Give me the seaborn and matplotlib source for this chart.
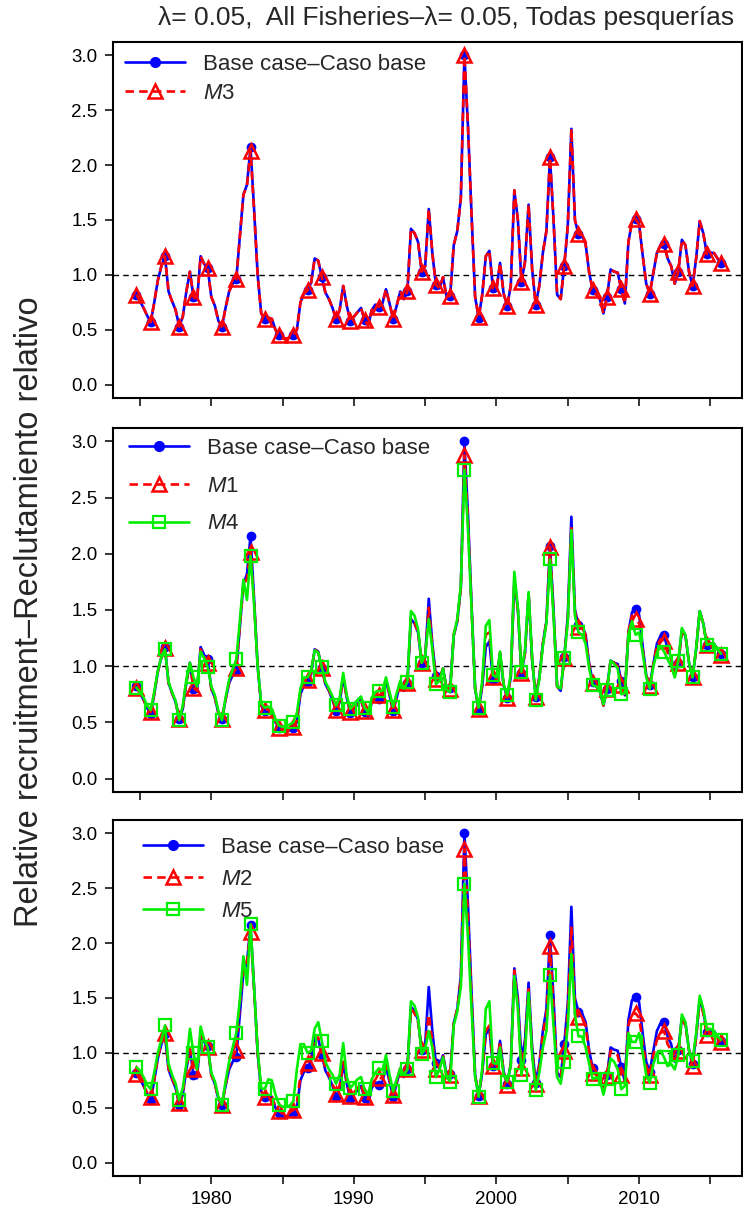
import numpy as np
import pandas as pd
import matplotlib
matplotlib.use("Agg")
import matplotlib.pyplot as plt
import seaborn as sns
from matplotlib.lines import Line2D

# ---------------- data (quarterly, first point 1974.75) ----------------
start_year = 1974.75
base = [
    0.82, 0.76, 0.70, 0.63,
    0.57, 0.75, 0.95, 1.08,
    1.17, 0.85, 0.76, 0.68,
    0.53, 0.62, 0.85, 1.03,
    0.80, 0.77, 1.17, 1.10,
    1.06, 0.80, 0.72, 0.58,
    0.53, 0.70, 0.85, 0.92,
    0.96, 1.35, 1.73, 1.82,
    2.16, 1.60, 1.00, 0.65,
    0.60, 0.61, 0.60, 0.50,
    0.45, 0.42, 0.42, 0.43,
    0.45, 0.50, 0.75, 0.83,
    0.86, 0.93, 1.15, 1.13,
    0.98, 0.84, 0.78, 0.70,
    0.60, 0.68, 0.90, 0.72,
    0.58, 0.62, 0.66, 0.70,
    0.59, 0.54, 0.68, 0.73,
    0.71, 0.74, 0.87, 0.74,
    0.60, 0.72, 0.85, 0.78,
    0.85, 1.42, 1.38, 1.30,
    1.03, 1.08, 1.60, 1.20,
    0.91, 0.88, 0.98, 0.80,
    0.81, 1.27, 1.40, 1.70,
    3.00, 2.35, 1.55, 0.80,
    0.61, 0.82, 1.17, 1.22,
    0.88, 0.87, 1.11, 0.83,
    0.72, 0.90, 1.77, 1.50,
    0.94, 1.12, 1.64, 1.05,
    0.73, 0.90, 1.20, 1.40,
    2.07, 1.50, 0.82, 0.78,
    1.08, 1.45, 2.33, 1.50,
    1.37, 1.36, 1.28, 1.02,
    0.86, 0.82, 0.78, 0.65,
    0.80, 1.05, 1.03, 1.02,
    0.87, 0.74, 1.30, 1.48,
    1.51, 1.46, 1.18, 0.92,
    0.83, 1.02, 1.20, 1.27,
    1.28, 1.15, 1.08, 0.92,
    1.03, 1.32, 1.27, 1.03,
    0.90, 1.15, 1.49, 1.38,
    1.19, 1.20, 1.20, 1.15,
    1.11,
]
m3 = [
    0.82, 0.76, 0.70, 0.63,
    0.57, 0.75, 0.95, 1.08,
    1.17, 0.85, 0.76, 0.68,
    0.53, 0.62, 0.85, 1.03,
    0.80, 0.77, 1.17, 1.10,
    1.06, 0.80, 0.72, 0.58,
    0.53, 0.70, 0.85, 0.92,
    0.96, 1.35, 1.73, 1.81,
    2.13, 1.59, 1.00, 0.65,
    0.60, 0.61, 0.60, 0.50,
    0.45, 0.42, 0.42, 0.43,
    0.45, 0.50, 0.75, 0.83,
    0.86, 0.93, 1.15, 1.13,
    0.98, 0.84, 0.78, 0.70,
    0.60, 0.68, 0.90, 0.72,
    0.58, 0.62, 0.66, 0.70,
    0.59, 0.54, 0.68, 0.73,
    0.71, 0.74, 0.87, 0.74,
    0.60, 0.72, 0.85, 0.78,
    0.85, 1.42, 1.38, 1.30,
    1.03, 1.08, 1.60, 1.20,
    0.91, 0.88, 0.98, 0.80,
    0.81, 1.27, 1.40, 1.70,
    3.00, 2.35, 1.55, 0.80,
    0.62, 0.82, 1.17, 1.22,
    0.88, 0.87, 1.11, 0.83,
    0.72, 0.90, 1.77, 1.50,
    0.94, 1.12, 1.64, 1.05,
    0.73, 0.90, 1.20, 1.40,
    2.07, 1.50, 0.82, 0.78,
    1.08, 1.45, 2.33, 1.50,
    1.37, 1.36, 1.28, 1.02,
    0.86, 0.82, 0.78, 0.65,
    0.80, 1.05, 1.03, 1.02,
    0.87, 0.74, 1.30, 1.48,
    1.51, 1.46, 1.18, 0.92,
    0.83, 1.02, 1.20, 1.27,
    1.28, 1.15, 1.08, 0.92,
    1.03, 1.32, 1.27, 1.03,
    0.90, 1.15, 1.49, 1.38,
    1.19, 1.20, 1.20, 1.15,
    1.11,
]
m1 = [
    0.81, 0.76, 0.70, 0.63,
    0.59, 0.76, 0.95, 1.08,
    1.16, 0.85, 0.76, 0.68,
    0.53, 0.63, 0.86, 1.02,
    0.81, 0.78, 1.15, 1.09,
    1.03, 0.80, 0.72, 0.58,
    0.53, 0.70, 0.86, 0.93,
    0.98, 1.36, 1.72, 1.78,
    2.02, 1.58, 1.00, 0.65,
    0.61, 0.62, 0.61, 0.51,
    0.45, 0.43, 0.43, 0.44,
    0.46, 0.52, 0.77, 0.84,
    0.88, 0.94, 1.15, 1.12,
    0.98, 0.84, 0.79, 0.71,
    0.61, 0.69, 0.90, 0.72,
    0.59, 0.63, 0.67, 0.70,
    0.60, 0.56, 0.69, 0.74,
    0.74, 0.76, 0.88, 0.75,
    0.61, 0.73, 0.85, 0.79,
    0.85, 1.43, 1.39, 1.30,
    1.03, 1.08, 1.52, 1.18,
    0.89, 0.88, 0.98, 0.80,
    0.80, 1.28, 1.40, 1.70,
    2.88, 2.30, 1.52, 0.80,
    0.62, 0.84, 1.28, 1.30,
    0.90, 0.88, 1.12, 0.83,
    0.72, 0.90, 1.78, 1.50,
    0.94, 1.12, 1.64, 1.06,
    0.73, 0.90, 1.20, 1.40,
    2.06, 1.48, 0.82, 0.78,
    1.07, 1.42, 2.25, 1.48,
    1.35, 1.33, 1.25, 1.01,
    0.85, 0.82, 0.78, 0.65,
    0.80, 1.05, 1.03, 1.00,
    0.83, 0.75, 1.30, 1.45,
    1.42, 1.38, 1.15, 0.92,
    0.82, 1.02, 1.18, 1.24,
    1.22, 1.12, 1.06, 0.92,
    1.03, 1.30, 1.27, 1.03,
    0.90, 1.15, 1.49, 1.38,
    1.19, 1.20, 1.20, 1.15,
    1.10,
]
m4 = [
    0.81, 0.77, 0.72, 0.65,
    0.61, 0.77, 0.96, 1.08,
    1.15, 0.86, 0.77, 0.69,
    0.52, 0.65, 0.88, 1.03,
    0.90, 0.82, 1.13, 1.07,
    0.99, 0.82, 0.74, 0.60,
    0.52, 0.72, 0.88, 0.97,
    1.06, 1.40, 1.77, 1.59,
    1.98, 1.55, 1.00, 0.67,
    0.63, 0.64, 0.62, 0.53,
    0.47, 0.46, 0.47, 0.48,
    0.50, 0.58, 0.80, 0.90,
    0.90, 0.96, 1.14, 1.12,
    0.99, 0.86, 0.80, 0.73,
    0.65, 0.72, 0.94, 0.74,
    0.62, 0.66, 0.70, 0.73,
    0.63, 0.59, 0.72, 0.77,
    0.78, 0.78, 0.90, 0.77,
    0.64, 0.76, 0.87, 0.80,
    0.86, 1.49, 1.45, 1.33,
    1.03, 1.10, 1.42, 1.15,
    0.84, 0.87, 0.98, 0.79,
    0.77, 1.28, 1.42, 1.72,
    2.75, 2.22, 1.50, 0.80,
    0.63, 0.87, 1.36, 1.41,
    0.92, 0.90, 1.13, 0.84,
    0.74, 0.93, 1.84, 1.52,
    0.95, 1.15, 1.66, 1.07,
    0.70, 0.88, 1.18, 1.38,
    1.95, 1.45, 0.82, 0.80,
    1.07, 1.40, 2.21, 1.45,
    1.30, 1.28, 1.20, 0.98,
    0.83, 0.82, 0.78, 0.66,
    0.79, 1.05, 1.02, 0.98,
    0.75, 0.76, 1.28, 1.40,
    1.28, 1.30, 1.12, 0.90,
    0.80, 1.00, 1.12, 1.18,
    1.13, 1.06, 1.00, 0.90,
    1.05, 1.34, 1.28, 1.03,
    0.90, 1.16, 1.49, 1.38,
    1.19, 1.20, 1.20, 1.15,
    1.11,
]
m2 = [
    0.81, 0.76, 0.70, 0.64,
    0.60, 0.76, 0.96, 1.09,
    1.18, 0.86, 0.77, 0.69,
    0.54, 0.64, 0.87, 1.04,
    0.85, 0.80, 1.17, 1.10,
    1.05, 0.80, 0.72, 0.58,
    0.53, 0.71, 0.88, 0.96,
    1.03, 1.45, 1.78, 1.84,
    2.10, 1.58, 1.00, 0.65,
    0.60, 0.61, 0.60, 0.51,
    0.47, 0.45, 0.45, 0.46,
    0.48, 0.55, 0.79, 0.87,
    0.91, 0.96, 1.16, 1.14,
    1.00, 0.86, 0.80, 0.72,
    0.63, 0.70, 0.92, 0.74,
    0.61, 0.64, 0.68, 0.72,
    0.60, 0.58, 0.71, 0.76,
    0.77, 0.77, 0.89, 0.76,
    0.62, 0.74, 0.86, 0.79,
    0.85, 1.40, 1.36, 1.28,
    1.03, 1.06, 1.35, 1.10,
    0.85, 0.86, 0.97, 0.79,
    0.80, 1.27, 1.40, 1.68,
    2.86, 2.25, 1.50, 0.79,
    0.61, 0.83, 1.20, 1.25,
    0.88, 0.87, 1.10, 0.82,
    0.71, 0.89, 1.75, 1.45,
    0.86, 1.08, 1.58, 1.02,
    0.72, 0.88, 1.17, 1.36,
    1.97, 1.42, 0.80, 0.77,
    1.02, 1.38, 2.15, 1.42,
    1.33, 1.32, 1.24, 1.00,
    0.82, 0.80, 0.77, 0.66,
    0.79, 1.02, 1.00, 0.98,
    0.80, 0.75, 1.25, 1.35,
    1.36, 1.32, 1.10, 0.88,
    0.80, 0.98, 1.12, 1.18,
    1.20, 1.08, 1.02, 0.90,
    1.02, 1.30, 1.25, 1.02,
    0.88, 1.14, 1.48, 1.36,
    1.16, 1.18, 1.18, 1.13,
    1.10,
]
m5 = [
    0.87, 0.84, 0.78, 0.71,
    0.67, 0.82, 1.00, 1.12,
    1.25, 0.90, 0.80, 0.72,
    0.57, 0.68, 0.90, 1.22,
    1.00, 0.85, 1.24, 1.12,
    1.05, 0.82, 0.74, 0.60,
    0.53, 0.74, 0.92, 1.05,
    1.18, 1.48, 1.88, 1.62,
    2.17, 1.60, 1.02, 0.68,
    0.67, 0.76, 0.75, 0.62,
    0.53, 0.51, 0.51, 0.52,
    0.56, 0.85, 1.08, 1.08,
    1.00, 1.02, 1.22, 1.28,
    1.11, 0.92, 0.85, 0.80,
    0.72, 0.80, 1.09, 0.78,
    0.68, 0.72, 0.76, 0.78,
    0.67, 0.62, 0.76, 0.82,
    0.86, 0.84, 0.98, 0.80,
    0.65, 0.76, 0.86, 0.80,
    0.85, 1.47, 1.43, 1.32,
    0.99, 1.04, 1.20, 1.05,
    0.78, 0.85, 0.96, 0.78,
    0.74, 1.25, 1.38, 1.60,
    2.54, 2.05, 1.40, 0.78,
    0.60, 0.86, 1.40, 1.47,
    0.91, 0.90, 1.05, 0.80,
    0.74, 0.88, 1.70, 1.40,
    0.80, 1.00, 1.55, 0.98,
    0.66, 0.82, 1.05, 1.20,
    1.71, 1.25, 0.78, 0.72,
    0.92, 1.25, 1.90, 1.35,
    1.15, 1.15, 1.05, 0.90,
    0.76, 0.78, 0.75, 0.62,
    0.76, 0.95, 0.92, 0.85,
    0.67, 0.70, 1.18, 1.10,
    1.10, 1.18, 1.00, 0.80,
    0.73, 0.90, 1.00, 1.02,
    0.96, 0.88, 0.90, 0.85,
    0.98, 1.35, 1.28, 1.02,
    0.93, 1.18, 1.52, 1.40,
    1.21, 1.22, 1.20, 1.15,
    1.12,
]

title = "\u03bb= 0.05,  All Fisheries\u2013\u03bb= 0.05, Todas pesquer\u00edas"
ylabel = "Relative recruitment\u2013Reclutamiento relativo"
base_label = "Base case\u2013Caso base"
ytick_vals = [0.0, 0.5, 1.0, 1.5, 2.0, 2.5, 3.0]
xtick_vals = [1975, 1980, 1985, 1990, 1995, 2000, 2005, 2010, 2015]
xtick_labeled = [1980, 1990, 2000, 2010]

quarters = start_year + 0.25 * np.arange(len(base))
df = pd.DataFrame({"year": quarters, "base": base, "M3": m3, "M1": m1,
                   "M4": m4, "M2": m2, "M5": m5})

# ---------------- style ----------------
sns.set_theme(style="ticks")
plt.rcParams["font.family"] = ["Liberation Sans", "DejaVu Sans"]
plt.rcParams["mathtext.fontset"] = "custom"
plt.rcParams["mathtext.rm"] = "Liberation Sans"
plt.rcParams["mathtext.it"] = "Liberation Sans:italic"

W, H = 743, 1215
fig = plt.figure(figsize=(W / 100, H / 100), dpi=100)

BLUE, RED, GREEN = "#0000FF", "#FF0000", "#00EE00"
LW = 1.9
RED_DASH = (0, (3.2, 2.0))

styles = {
    "base": dict(color=BLUE, marker="o", ms=6.0, mfc=BLUE, mec=BLUE, mew=1.0, ls="-"),
    "red": dict(color=RED, marker="^", ms=9.5, mfc="none", mec=RED, mew=1.8, ls=RED_DASH),
    "green": dict(color=GREEN, marker="s", ms=8.0, mfc="none", mec=GREEN, mew=1.6, ls="-"),
}

# axes rects in pixels
left_px, right_px = 113, 742
panels = [
    dict(top=42, bot=398, series=[("base", "base"), ("M3", "red")],
         labels=[base_label, r"$\mathit{M}$3"], leg=(12, 12), spacing=0.36),
    dict(top=428, bot=792, series=[("base", "base"), ("M1", "red"), ("M4", "green")],
         labels=[base_label, r"$\mathit{M}$1", r"$\mathit{M}$4"], leg=(16, 10), spacing=0.75),
    dict(top=820, bot=1176, series=[("base", "base"), ("M2", "red"), ("M5", "green")],
         labels=[base_label, r"$\mathit{M}$2", r"$\mathit{M}$5"], leg=(30, 17), spacing=0.50),
]

xlim = (1975 - (140 - left_px) / 14.26, 1975 + (right_px - 140) / 14.26)

for k, p in enumerate(panels):
    rect = [left_px / W, 1 - p["bot"] / H, (right_px - left_px) / W, (p["bot"] - p["top"]) / H]
    ax = fig.add_axes(rect)
    ax.axhline(1.0, color="black", lw=1.0, ls=(0, (4, 3)), zorder=1)
    handles = []
    for col, st in p["series"]:
        s = styles[st]
        sns.lineplot(data=df, x="year", y=col, ax=ax, color=s["color"], lw=LW,
                     marker=s["marker"], markersize=s["ms"], markerfacecolor=s["mfc"],
                     markeredgecolor=s["mec"], markeredgewidth=s["mew"],
                     markevery=4, linestyle=s["ls"], errorbar=None, zorder=2)
        handles.append(Line2D([], [], color=s["color"], lw=LW, ls=s["ls"],
                              marker=s["marker"], markersize=s["ms"] + 1,
                              markerfacecolor=s["mfc"], markeredgecolor=s["mec"],
                              markeredgewidth=s["mew"]))
    ax.set_xlim(*xlim)
    ax.set_ylim(-0.12, 3.12)
    ax.set_xlabel("")
    ax.set_ylabel("")
    ax.set_yticks(ytick_vals)
    ax.set_yticklabels([f"{v:.1f}" for v in ytick_vals], fontsize=13.5)
    ax.set_xticks(xtick_vals)
    if k == 2:
        ax.set_xticklabels([str(v) if v in xtick_labeled else "" for v in xtick_vals],
                           fontsize=13.5)
    else:
        ax.set_xticklabels([])
    ax.tick_params(axis="both", direction="out", length=6, width=1.1, color="black",
                   labelcolor="black", pad=5)
    for sp in ax.spines.values():
        sp.set_visible(True)
        sp.set_color("black")
        sp.set_linewidth(1.5)
    ax.set_facecolor("white")
    ax_h = p["bot"] - p["top"]
    ax_w = right_px - left_px
    ax.legend(handles, p["labels"], loc="upper left",
              bbox_to_anchor=(p["leg"][0] / ax_w, 1 - p["leg"][1] / ax_h),
              frameon=False, fontsize=16, handlelength=2.7, handletextpad=0.8,
              labelspacing=p["spacing"], borderpad=0, borderaxespad=0)

fig.text(446 / W, 1 - 18 / H, title, ha="center", va="center", fontsize=19)
fig.text(30 / W, 1 - 612 / H, ylabel, ha="center", va="center", rotation=90, fontsize=23.5)

fig.savefig("out.png", dpi=100, facecolor="white")
